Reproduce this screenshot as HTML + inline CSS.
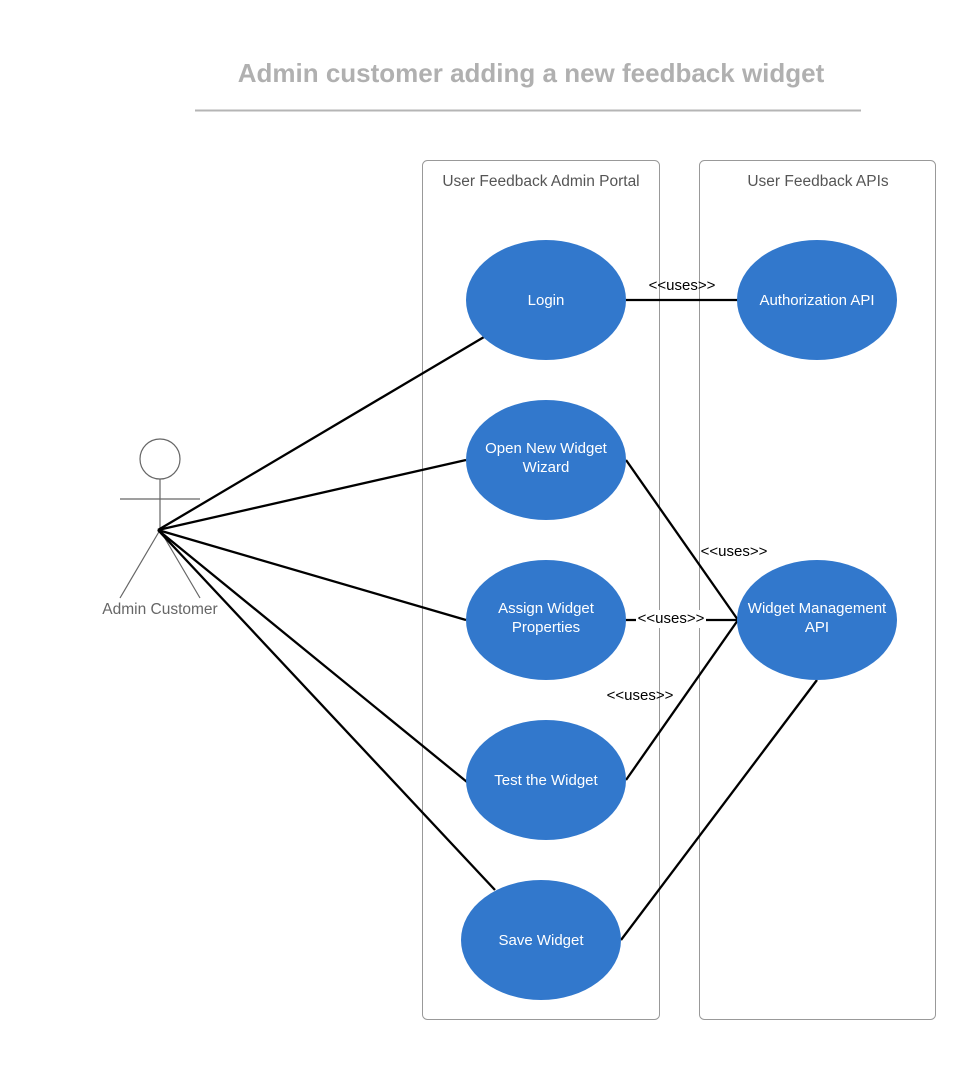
<!DOCTYPE html>
<html><head><style>body{margin:0;background:#fff}</style></head><body>
<svg width="976" height="1060" xmlns="http://www.w3.org/2000/svg" font-family="Liberation Sans, sans-serif">
<rect width="976" height="1060" fill="#fff"/>
<text x="531" y="82" text-anchor="middle" font-size="26" font-weight="bold" fill="#b0b0b0">Admin customer adding a new feedback widget</text>
<line x1="195" y1="110.5" x2="861" y2="110.5" stroke="#b5b5b5" stroke-width="2"/>
<rect x="422.5" y="160.5" width="237" height="859" rx="5" fill="none" stroke="#999" stroke-width="1"/>
<rect x="699.5" y="160.5" width="236" height="859" rx="5" fill="none" stroke="#999" stroke-width="1"/>
<text x="541" y="186" text-anchor="middle" font-size="15.5" fill="#555">User Feedback Admin Portal</text>
<text x="818" y="186" text-anchor="middle" font-size="15.5" fill="#555">User Feedback APIs</text>
<g stroke="#666" stroke-width="1.2" fill="none">
<circle cx="160" cy="459" r="20"/>
<line x1="160" y1="479" x2="160" y2="530"/>
<line x1="120" y1="499" x2="200" y2="499"/>
<line x1="160" y1="530" x2="120" y2="598"/>
<line x1="160" y1="530" x2="200" y2="598"/>
</g>
<text x="160" y="614" text-anchor="middle" font-size="15.5" fill="#666">Admin Customer</text>
<g stroke="#000" stroke-width="2.3">
<line x1="158" y1="530" x2="484" y2="337"/>
<line x1="158" y1="530" x2="466" y2="460"/>
<line x1="158" y1="530" x2="466" y2="620"/>
<line x1="158" y1="530" x2="467" y2="782"/>
<line x1="158" y1="530" x2="495" y2="890"/>
<line x1="626" y1="300" x2="738" y2="300"/>
<line x1="626" y1="460" x2="738" y2="620"/>
<line x1="626" y1="620" x2="738" y2="620"/>
<line x1="626" y1="780" x2="738" y2="620"/>
<line x1="621" y1="940" x2="817" y2="680"/>
</g>
<g fill="#3278cc">
<ellipse cx="546" cy="300" rx="80" ry="60"/>
<ellipse cx="546" cy="460" rx="80" ry="60"/>
<ellipse cx="546" cy="620" rx="80" ry="60"/>
<ellipse cx="546" cy="780" rx="80" ry="60"/>
<ellipse cx="541" cy="940" rx="80" ry="60"/>
<ellipse cx="817" cy="300" rx="80" ry="60"/>
<ellipse cx="817" cy="620" rx="80" ry="60"/>
</g>
<g fill="#fff" font-size="15" text-anchor="middle">
<text x="546" y="305">Login</text>
<text x="546" y="453">Open New Widget</text>
<text x="546" y="472">Wizard</text>
<text x="546" y="613">Assign Widget</text>
<text x="546" y="632">Properties</text>
<text x="546" y="785">Test the Widget</text>
<text x="541" y="945">Save Widget</text>
<text x="817" y="305">Authorization API</text>
<text x="817" y="613">Widget Management</text>
<text x="817" y="632">API</text>
</g>
<rect x="636" y="610" width="70" height="18" fill="#fff"/>
<g font-size="15" fill="#000" text-anchor="middle">
<text x="682" y="290">&lt;&lt;uses&gt;&gt;</text>
<text x="734" y="556">&lt;&lt;uses&gt;&gt;</text>
<text x="671" y="623">&lt;&lt;uses&gt;&gt;</text>
<text x="640" y="700">&lt;&lt;uses&gt;&gt;</text>
</g>
</svg>
</body></html>
